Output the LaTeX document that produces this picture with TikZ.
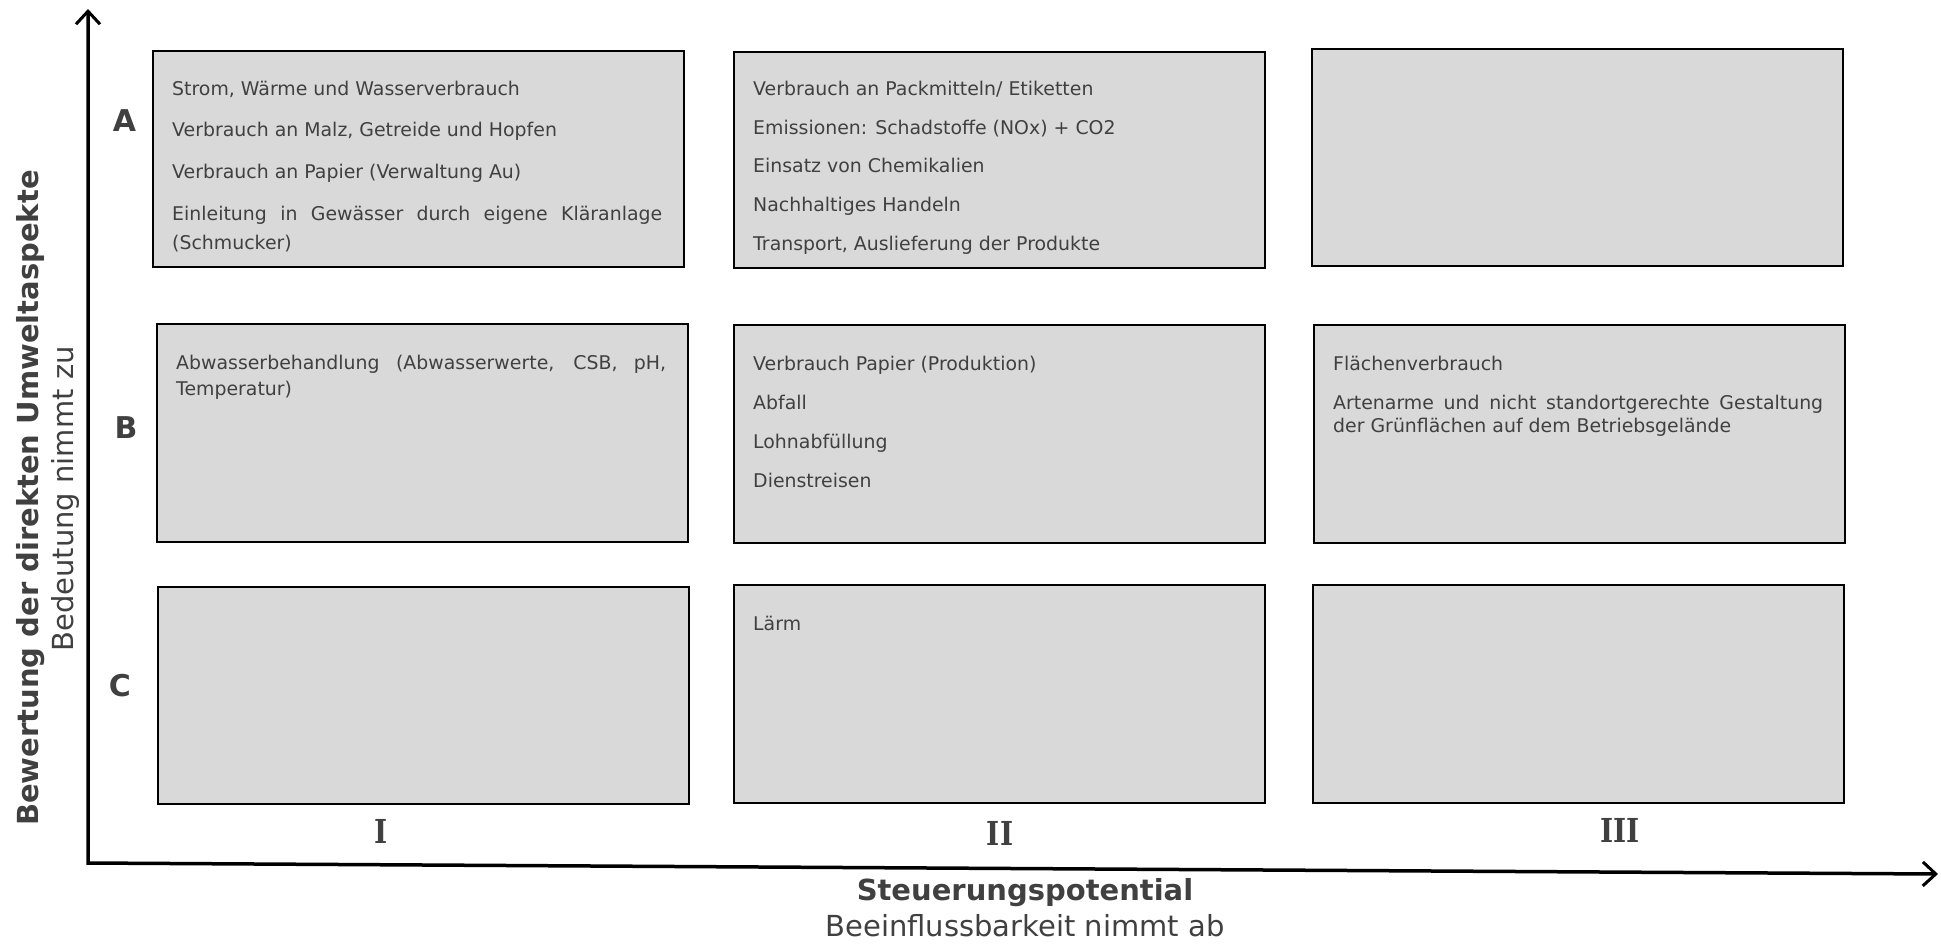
\documentclass[tikz,border=0pt]{standalone}
\usepackage{fontspec}
\setmainfont{DejaVu Sans}
\newfontfamily\numfont{DejaVu Serif}
\usetikzlibrary{arrows.meta}
\definecolor{txt}{HTML}{404040}
\definecolor{boxfill}{HTML}{D9D9D9}
\tikzset{
 cell/.style={draw=black, line width=2pt, fill=boxfill, rectangle, inner sep=0pt, anchor=north west},
 itemtext/.style={anchor=base west, inner sep=0pt, text=txt, font=\fontsize{18.9}{22}\selectfont},
 rowlabel/.style={text=txt, inner sep=0pt, font=\fontsize{30}{34}\selectfont\bfseries},
 collabel/.style={text=txt, inner sep=0pt, font=\fontsize{33}{36}\numfont\bfseries},
 axistitle/.style={text=txt, inner sep=0pt, font=\fontsize{29}{34}\selectfont\bfseries},
 axissub/.style={text=txt, inner sep=0pt, font=\fontsize{29}{34}\selectfont},
 axisline/.style={line width=3.5pt, {Straight Barb[length=13pt,width=24pt,line width=3pt]}-{Straight Barb[length=13pt,width=24pt,line width=3pt]}}
}
\newcommand{\jline}[1]{\makebox[490pt][s]{#1}}
\newcommand{\colnum}[1]{\scalebox{0.85}[1]{#1}}
\begin{document}
\begin{tikzpicture}[x=1pt,y=-1pt]
\useasboundingbox (0,0) rectangle (1941,943);
% axes
\coordinate (O) at (88,863);
\coordinate (Ytip) at (88,9);
\coordinate (Xtip) at (1938,874);
\draw[axisline] (Ytip) -- (O) -- (Xtip);
% boxes
\node[cell, minimum width=531pt, minimum height=216pt] (a1) at (152,50) {};
\node[cell, minimum width=531pt, minimum height=216pt] (a2) at (733,51) {};
\node[cell, minimum width=531pt, minimum height=217pt] (a3) at (1311,48) {};
\node[cell, minimum width=531pt, minimum height=218pt] (b1) at (156,323) {};
\node[cell, minimum width=531pt, minimum height=218pt] (b2) at (733,324) {};
\node[cell, minimum width=531pt, minimum height=218pt] (b3) at (1313,324) {};
\node[cell, minimum width=531pt, minimum height=217pt] (c1) at (157,586) {};
\node[cell, minimum width=531pt, minimum height=218pt] (c2) at (733,584) {};
\node[cell, minimum width=531pt, minimum height=218pt] (c3) at (1312,584) {};
% texts A1
\node[itemtext] (a1t1) at (172,95) {Strom, Wärme und Wasserverbrauch};
\node[itemtext] (a1t2) at (172,136) {Verbrauch an Malz, Getreide und Hopfen};
\node[itemtext] (a1t3) at (172,178) {Verbrauch an Papier (Verwaltung Au)};
\node[itemtext] (a1t4) at (172,220) {\jline{Einleitung in Gewässer durch eigene Kläranlage}};
\node[itemtext] (a1t5) at (172,249) {(Schmucker)};
% texts A2
\node[itemtext] (a2t1) at (753,95) {Verbrauch an Packmitteln/ Etiketten};
\node[itemtext] (a2t2) at (753,134) {Emissionen: Schadstoffe (NOx) + CO2};
\node[itemtext] (a2t3) at (753,172) {Einsatz von Chemikalien};
\node[itemtext] (a2t4) at (753,211) {Nachhaltiges Handeln};
\node[itemtext] (a2t5) at (753,250) {Transport, Auslieferung der Produkte};
% texts B1
\node[itemtext] (b1t1) at (176,369) {\jline{Abwasserbehandlung (Abwasserwerte, CSB, pH,}};
\node[itemtext] (b1t2) at (176,395) {Temperatur)};
% texts B2
\node[itemtext] (b2t1) at (753,370) {Verbrauch Papier (Produktion)};
\node[itemtext] (b2t2) at (753,409) {Abfall};
\node[itemtext] (b2t3) at (753,448) {Lohnabfüllung};
\node[itemtext] (b2t4) at (753,487) {Dienstreisen};
% texts B3
\node[itemtext] (b3t1) at (1333,370) {Flächenverbrauch};
\node[itemtext] (b3t2) at (1333,409) {\jline{Artenarme und nicht standortgerechte Gestaltung}};
\node[itemtext] (b3t3) at (1333,432) {der Grünflächen auf dem Betriebsgelände};
% texts C2
\node[itemtext] (c2t1) at (753,630) {Lärm};
% row labels
\node[rowlabel] (lA) at (124.5,121) {A};
\node[rowlabel] (lB) at (126,428) {B};
\node[rowlabel] (lC) at (120,686) {C};
% column labels
\node[collabel] (lI) at (381,831) {\colnum{I}};
\node[collabel] (lII) at (1000,833) {\colnum{II}};
\node[collabel] (lIII) at (1620,830) {\colnum{III}};
% axis titles
\node[axistitle] (xt) at (1025,893) {Steuerungspotential};
\node[axissub] (xs) at (1025,926) {Beeinflussbarkeit nimmt ab};
\node[axistitle, rotate=90] (yt) at (30.5,498) {Bewertung der direkten Umweltaspekte};
\node[axissub, rotate=90] (ys) at (65,499) {Bedeutung nimmt zu};
\end{tikzpicture}
\end{document}
